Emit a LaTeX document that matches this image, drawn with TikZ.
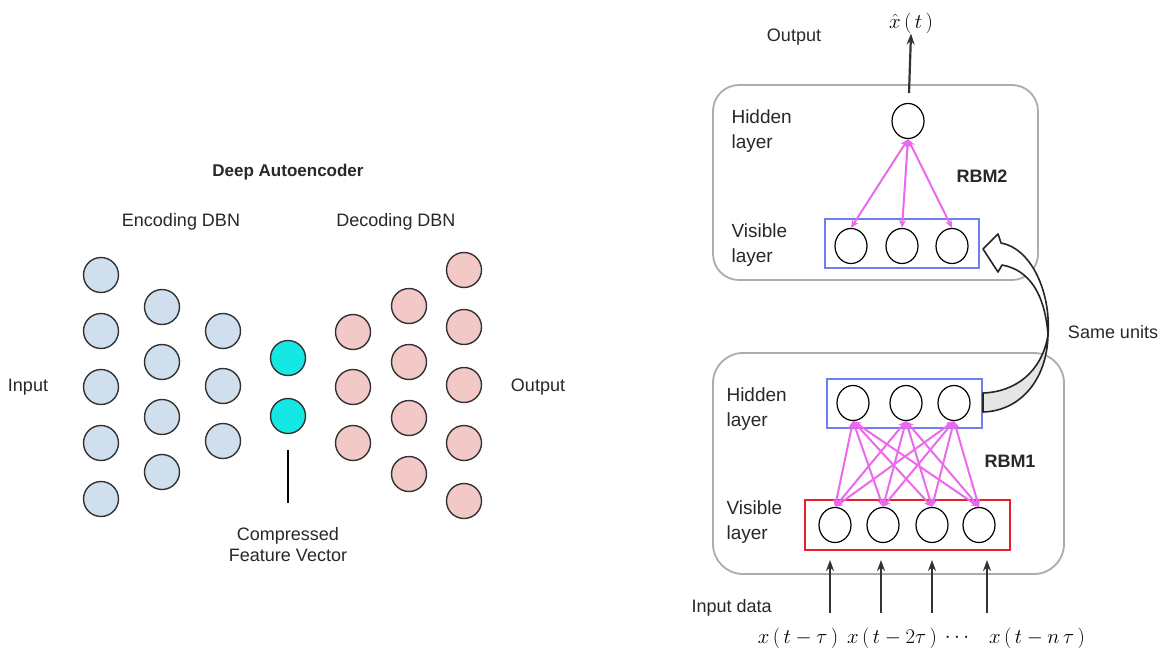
\documentclass[tikz,border=0pt]{standalone}
\usepackage[no-math]{fontspec}
\setmainfont{Liberation Sans}
\usetikzlibrary{arrows.meta,shapes.geometric}
\definecolor{encblue}{RGB}{207,223,238}
\definecolor{decpink}{RGB}{242,201,198}
\definecolor{codecyan}{RGB}{20,232,228}
\definecolor{ringgray}{RGB}{51,51,51}
\definecolor{boxgray}{RGB}{168,174,174}
\definecolor{layblue}{RGB}{110,125,240}
\definecolor{layred}{RGB}{232,30,40}
\definecolor{linkmag}{RGB}{236,104,236}
\definecolor{ribbongray}{RGB}{228,230,230}
\definecolor{textgray}{RGB}{40,40,40}
\begin{document}
\begin{tikzpicture}[x=1pt,y=-1pt,
 unit/.style={circle,draw=ringgray,line width=1.4pt,minimum size=35pt,inner sep=0pt},
 enc/.style={unit,fill=encblue},
 dec/.style={unit,fill=decpink},
 code/.style={unit,fill=codecyan},
 neuron/.style={ellipse,draw=black,line width=1.2pt,minimum width=32pt,minimum height=35pt,inner sep=0pt,fill=white},
 lbl/.style={font=\fontsize{18}{21}\selectfont,align=center,text=textgray},
 rlbl/.style={font=\fontsize{19}{25}\selectfont,align=left,anchor=west,text=textgray},
 mathlbl/.style={font=\fontsize{21}{24}\selectfont,inner sep=0pt},
 rbmbox/.style={draw=boxgray,line width=1.8pt,rounded corners=26pt},
 link/.style={linkmag,line width=2pt,{Stealth[length=8pt,width=7pt]}-{Stealth[length=8pt,width=7pt]}},
 feed/.style={black!80,line width=2.2pt,-{Stealth[length=11pt,width=8pt]}},
]
\useasboundingbox (0,0) rectangle (1169,655);
\fill[white] (0,0) rectangle (1169,655);

% ---------- left: deep autoencoder ----------
\node[lbl,font=\fontsize{17}{20}\selectfont\bfseries] (title) at (288,172) {Deep Autoencoder};
\node[lbl] (encl) at (181,222) {Encoding DBN};
\node[lbl] (decl) at (396,222) {Decoding DBN};
\node[lbl] (inl) at (28,387) {Input};
\node[lbl] (outl) at (538,387) {Output};

\foreach \y [count=\i] in {275,331,387,443,499} \node[enc] (ea\i) at (101,\y) {};
\foreach \y [count=\i] in {307,362,417,472} \node[enc] (eb\i) at (162,\y) {};
\foreach \y [count=\i] in {331,386,441} \node[enc] (ec\i) at (223,\y) {};
\foreach \y [count=\i] in {358,416} \node[code] (cc\i) at (288,\y) {};
\foreach \y [count=\i] in {332,387,443} \node[dec] (da\i) at (353,\y) {};
\foreach \y [count=\i] in {306,362,418,474} \node[dec] (db\i) at (409,\y) {};
\foreach \y [count=\i] in {270,327,385,443,501} \node[dec] (dc\i) at (464,\y) {};

\node[lbl,anchor=north] (cfv) at (288,524) {Compressed\\Feature Vector};
\coordinate (cvtop) at (288,450);
\coordinate (cvbot) at (288,503);
\draw[black,line width=1.2pt] (cvtop) -- (cvbot);

% ---------- right: stacked RBMs ----------
% RBM2
\draw[rbmbox] (713,85) rectangle (1038,280);
\node[rlbl] (hl2) at (728,131) {Hidden\\layer};
\node[rlbl] (vl2) at (728,245) {Visible\\layer};
\node[font=\fontsize{18}{21}\selectfont\bfseries,text=textgray] (rbm2) at (982,176) {RBM2};
\node[draw=layblue,line width=1.8pt,minimum width=154pt,minimum height=49pt,inner sep=0pt] (vbox2) at (902,243.5) {};
\node[neuron] (h2) at (908,121) {};
\node[neuron] (v2a) at (851,246) {};
\node[neuron] (v2b) at (902,246) {};
\node[neuron] (v2c) at (952,246) {};
\foreach \v in {a,b,c} \draw[link] (h2.south) -- (v2\v.north);

\node[lbl,font=\fontsize{18}{21}\selectfont] (outr) at (794,37) {Output};
\node[mathlbl] (xhat) at (911,23) {$\hat{x}\,(\,t\,)$};
\coordinate (outstart) at (909,93);
\draw[feed] (outstart) -- (xhat.south);

% RBM1
\draw[rbmbox,rounded corners=30pt] (713,353) rectangle (1064,574);
\node[rlbl] (hl1) at (723,409) {Hidden\\layer};
\node[rlbl] (vl1) at (723,522) {Visible\\layer};
\node[font=\fontsize{18}{21}\selectfont\bfseries,text=textgray] (rbm1) at (1010,461) {RBM1};
\node[draw=layblue,line width=1.8pt,minimum width=155pt,minimum height=49pt,inner sep=0pt] (hbox1) at (904.5,403.5) {};
\node[draw=layred,line width=1.8pt,minimum width=205pt,minimum height=50pt,inner sep=0pt] (vbox1) at (907.5,525) {};
\node[neuron] (h1a) at (853,403) {};
\node[neuron] (h1b) at (906,403) {};
\node[neuron] (h1c) at (954,403) {};
\node[neuron] (v1a) at (835,525) {};
\node[neuron] (v1b) at (883,525) {};
\node[neuron] (v1c) at (932,525) {};
\node[neuron] (v1d) at (979,525) {};
\foreach \h in {a,b,c}
  \foreach \v in {a,b,c,d}
    \draw[link] (h1\h.south) -- (v1\v.north);

% input arrows
\foreach \x [count=\i] in {830,881,932,987} {
  \coordinate (in\i) at (\x,613);
  \coordinate (it\i) at (\x,560);
  \draw[feed] (in\i) -- (it\i);
}
\node[rlbl,font=\fontsize{18}{21}\selectfont] (indata) at (688,608) {Input data};
\node[mathlbl] (x1) at (798,638) {$x\,(\,t-\tau\,)$};
\node[mathlbl] (x2) at (892,638) {$x\,(\,t-2\tau\,)$};
\node[mathlbl] (x3) at (957,638) {$\cdots$};
\node[mathlbl] (x4) at (1037,638) {$x\,(\,t-n\,\tau\,)$};

% same units ribbon arrow
\filldraw[fill=white,draw=black!85,line width=1.6pt,line join=round]
  (983,249) -- (998,234) -- (1001,243)
  .. controls (1030,248) and (1051,290) .. (1048,335)
  .. controls (1045,295) and (1030,270) .. (1002,265)
  -- (998,272) -- cycle;
\filldraw[fill=ribbongray,draw=black!85,line width=1.6pt,line join=round]
  (1048,335) .. controls (1047,380) and (1020,411) .. (983,412)
  -- (983,393)
  .. controls (1015,392) and (1042,372) .. (1048,335);
\node[lbl,font=\fontsize{18}{21}\selectfont] (same) at (1113,332) {Same units};
\end{tikzpicture}
\end{document}
